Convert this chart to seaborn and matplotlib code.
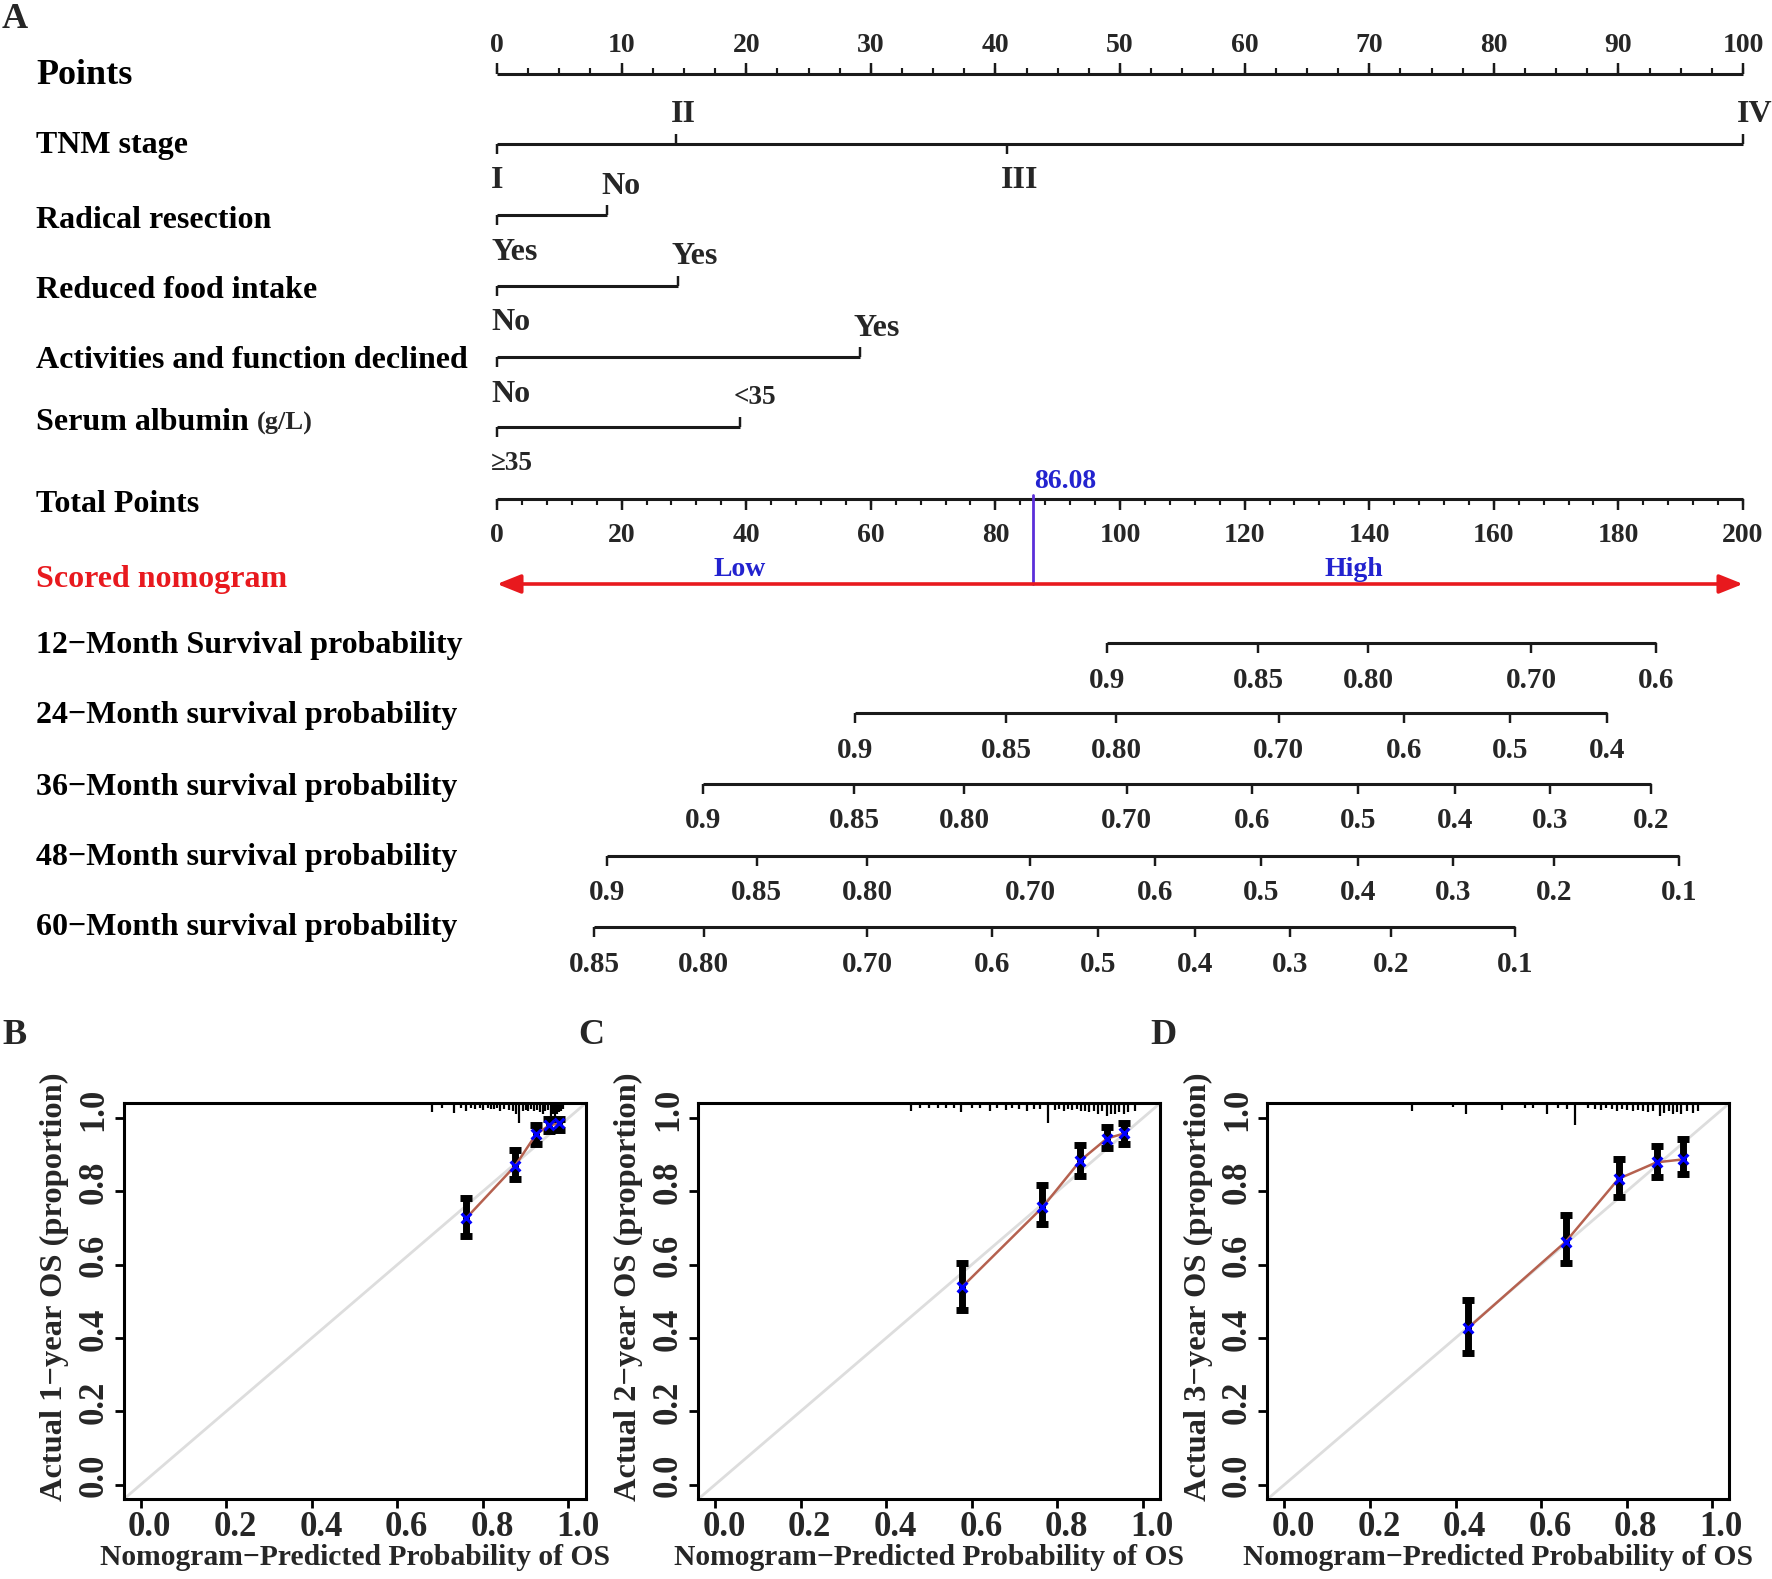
import numpy as np
import pandas as pd
import matplotlib
matplotlib.use("Agg")
import matplotlib.pyplot as plt
import matplotlib.transforms as mtransforms
import seaborn as sns

# ------------------------------------------------------------------ data
points_ticks = [0, 10, 20, 30, 40, 50, 60, 70, 80, 90, 100]
total_ticks = [0, 20, 40, 60, 80, 100, 120, 140, 160, 180, 200]

tnm_levels = ["I", "II", "III", "IV"]
tnm_points = [0, 14.4, 40.9, 100]
tnm_above = [False, True, False, True]

radical_levels = ["Yes", "No"]
radical_points = [0, 8.85]

food_levels = ["No", "Yes"]
food_points = [0, 14.5]

activity_levels = ["No", "Yes"]
activity_points = [0, 29.1]

albumin_levels = ["\u226535", "<35"]
albumin_points = [0, 19.5]

patient_total = 86.08

surv12_labels = ["0.9", "0.85", "0.80", "0.70", "0.6"]
surv12_total = [97.9, 122.2, 139.8, 166.0, 186.0]
surv24_labels = ["0.9", "0.85", "0.80", "0.70", "0.6", "0.5", "0.4"]
surv24_total = [57.5, 81.7, 99.4, 125.5, 145.6, 162.6, 178.2]
surv36_labels = ["0.9", "0.85", "0.80", "0.70", "0.6", "0.5", "0.4", "0.3", "0.2"]
surv36_total = [33.1, 57.3, 75.0, 101.1, 121.2, 138.2, 153.8, 169.0, 185.2]
surv48_labels = ["0.9", "0.85", "0.80", "0.70", "0.6", "0.5", "0.4", "0.3", "0.2", "0.1"]
surv48_total = [17.7, 41.7, 59.4, 85.6, 105.6, 122.6, 138.2, 153.5, 169.7, 189.7]
surv60_labels = ["0.85", "0.80", "0.70", "0.6", "0.5", "0.4", "0.3", "0.2", "0.1"]
surv60_total = [15.6, 33.2, 59.4, 79.5, 96.5, 112.0, 127.3, 143.5, 163.4]

# calibration (B: 1-year, C: 2-year, D: 3-year)
cal1_pred = [0.761, 0.875, 0.924, 0.955, 0.978]
cal1_obs = [0.727, 0.869, 0.955, 0.980, 0.985]
cal1_lo = [0.677, 0.833, 0.929, 0.965, 0.968]
cal1_hi = [0.783, 0.914, 0.980, 0.998, 0.998]

cal2_pred = [0.578, 0.765, 0.854, 0.916, 0.957]
cal2_obs = [0.540, 0.756, 0.884, 0.944, 0.958]
cal2_lo = [0.475, 0.712, 0.843, 0.919, 0.929]
cal2_hi = [0.604, 0.818, 0.927, 0.975, 0.985]

cal3_pred = [0.430, 0.658, 0.781, 0.870, 0.932]
cal3_obs = [0.428, 0.663, 0.834, 0.879, 0.887]
cal3_lo = [0.359, 0.605, 0.785, 0.839, 0.846]
cal3_hi = [0.503, 0.736, 0.889, 0.924, 0.942]

# rug of predicted probabilities along the top (position, spike length)
rug1_x = [0.680, 0.705, 0.733, 0.748, 0.761, 0.772, 0.782, 0.792, 0.800, 0.812, 0.820,
          0.826, 0.833, 0.840, 0.850, 0.860, 0.870, 0.877, 0.885, 0.893, 0.900, 0.906,
          0.913, 0.920, 0.927, 0.933, 0.940, 0.946, 0.952, 0.958, 0.963, 0.968, 0.973,
          0.978, 0.983, 0.988]
rug1_len = [0.024, 0.014, 0.026, 0.014, 0.022, 0.014, 0.016, 0.014, 0.018, 0.014, 0.016,
            0.016, 0.014, 0.020, 0.015, 0.018, 0.020, 0.030, 0.055, 0.020, 0.018, 0.022,
            0.016, 0.020, 0.018, 0.025, 0.030, 0.022, 0.018, 0.035, 0.028, 0.040, 0.030,
            0.025, 0.020, 0.015]

rug2_x = [0.457, 0.480, 0.500, 0.520, 0.540, 0.558, 0.574, 0.600, 0.620, 0.643, 0.660,
          0.680, 0.695, 0.710, 0.729, 0.745, 0.760, 0.779, 0.795, 0.805, 0.815, 0.825,
          0.835, 0.845, 0.855, 0.865, 0.875, 0.885, 0.895, 0.905, 0.916, 0.925, 0.935,
          0.945, 0.955, 0.965, 0.981]
rug2_len = [0.022, 0.012, 0.014, 0.012, 0.014, 0.012, 0.024, 0.014, 0.014, 0.020, 0.014,
            0.018, 0.014, 0.016, 0.022, 0.016, 0.016, 0.055, 0.018, 0.016, 0.020, 0.016,
            0.018, 0.016, 0.020, 0.022, 0.025, 0.020, 0.028, 0.022, 0.035, 0.028, 0.030,
            0.024, 0.030, 0.025, 0.020]

rug3_x = [0.298, 0.394, 0.424, 0.508, 0.562, 0.582, 0.613, 0.640, 0.660, 0.679, 0.710,
          0.725, 0.740, 0.752, 0.765, 0.778, 0.790, 0.802, 0.814, 0.826, 0.838, 0.850,
          0.862, 0.877, 0.888, 0.898, 0.908, 0.918, 0.928, 0.940, 0.955, 0.968]
rug3_len = [0.020, 0.010, 0.030, 0.018, 0.014, 0.014, 0.028, 0.014, 0.016, 0.058, 0.014,
            0.016, 0.018, 0.014, 0.016, 0.020, 0.016, 0.018, 0.022, 0.018, 0.020, 0.024,
            0.020, 0.035, 0.026, 0.022, 0.028, 0.024, 0.030, 0.022, 0.026, 0.020]

# ------------------------------------------------------------------ style
sns.set_theme(style="white")
plt.rcParams["font.family"] = ["Liberation Serif", "DejaVu Serif"]
plt.rcParams["font.weight"] = "bold"
plt.rcParams["axes.labelweight"] = "bold"

RED = "#E8191E"
BLUE = "#2323CF"
PURPLE = "#5B2FD9"
BROWN = "#B5614F"

W, H = 1772, 1579
fig = plt.figure(figsize=(W / 100, H / 100), dpi=100)
fig.patch.set_facecolor("white")

# ------------------------------------------------------------------ nomogram
TOP_H = 1000
ax = fig.add_axes([0, 1 - TOP_H / H, 1, TOP_H / H])
PX = 12.46  # pixels per point
X0 = 497
ax.set_xlim(-X0 / PX, (W - X0) / PX)
ax.set_ylim(TOP_H, 0)
ax.axis("off")

LW = 2.2
LABEL_X = (36 - X0) / PX
FS_ROW = 23
FS_TICK = 20
FS_SURV = 21
DY = 3  # vertical text offset (pixels)


def row_label(y, text, color="black", size=FS_ROW):
    return ax.text(LABEL_X, y + DY + 1, text, ha="left", va="center", fontsize=size,
                   color=color, fontweight="bold")


# Points axis
yP = 74
ax.plot([0, 100], [yP, yP], color="k", lw=LW, solid_capstyle="butt")
ax.vlines(points_ticks, yP, yP - 11, color="k", lw=LW * 0.8)
ax.vlines(np.arange(0, 100.01, 2.5), yP, yP - 6, color="k", lw=LW * 0.7)
for t in points_ticks:
    ax.text(t, 43 + DY, str(t), ha="center", va="center", fontsize=FS_TICK)
row_label(72, "Points", size=26)


def draw_var(y, levels, pts, above, fs=FS_ROW):
    ax.plot([min(pts), max(pts)], [y, y], color="k", lw=LW, solid_capstyle="butt")
    for lev, p, a in zip(levels, pts, above):
        ax.vlines(p, y, y - 10 if a else y + 10, color="k", lw=LW * 0.8)
        ax.text(p - 6 / PX, (y - 32 if a else y + 34) + DY, lev, ha="left",
                va="center", fontsize=fs)


draw_var(144, tnm_levels, tnm_points, tnm_above)
row_label(142, "TNM stage")
draw_var(215, radical_levels, radical_points, [False, True])
row_label(216, "Radical resection")
draw_var(286, food_levels, food_points, [False, True])
row_label(286, "Reduced food intake")
draw_var(357, activity_levels, activity_points, [False, True])
row_label(356, "Activities and function declined")
draw_var(427, albumin_levels, albumin_points, [False, True], fs=19.5)
t_alb = row_label(419, "Serum albumin ")
ax.annotate("(g/L)", xy=(1, 0.5), xycoords=t_alb, ha="left", va="center",
            fontsize=19, fontweight="bold")

# Total points axis
yT = 499
tp = np.array(total_ticks) / 2.0
ax.plot([0, 100], [yT, yT], color="k", lw=LW, solid_capstyle="butt")
ax.vlines(tp, yT, yT + 11, color="k", lw=LW * 0.8)
ax.vlines(np.arange(0, 200.01, 4) / 2.0, yT, yT + 6, color="k", lw=LW * 0.7)
for t in total_ticks:
    ax.text(t / 2.0, 533 + DY, str(t), ha="center", va="center", fontsize=FS_TICK)
row_label(500, "Total Points")

# patient marker & scored nomogram arrow
yA = 584
ax.plot([patient_total / 2] * 2, [yT - 4, yA], color=PURPLE, lw=2)
ax.text(patient_total / 2 + 1 / PX, 478 + DY, f"{patient_total:.2f}", ha="left",
        va="center", fontsize=20, color=BLUE)
ax.annotate("", xy=(100, yA), xytext=(0, yA),
            arrowprops=dict(arrowstyle="<|-|>,head_length=0.65,head_width=0.26",
                            color=RED, lw=2.6, mutation_scale=22,
                            shrinkA=0, shrinkB=0))
ax.text(19.5, 567 + DY, "Low", ha="center", va="center", fontsize=20, color=BLUE)
ax.text(68.8, 567 + DY, "High", ha="center", va="center", fontsize=20, color=BLUE)
row_label(575, "Scored nomogram", color=RED)


def draw_surv(y, labels, totals):
    x = np.array(totals) / 2.0
    ax.plot([x.min(), x.max()], [y, y], color="k", lw=LW, solid_capstyle="butt")
    ax.vlines(x, y, y + 10, color="k", lw=LW * 0.8)
    for lab, xi in zip(labels, x):
        ax.text(xi, y + 34 + DY, lab, ha="center", va="center", fontsize=FS_SURV)


draw_surv(643, surv12_labels, surv12_total)
row_label(641, "12\u2212Month Survival probability")
draw_surv(713, surv24_labels, surv24_total)
row_label(712, "24\u2212Month survival probability")
draw_surv(784, surv36_labels, surv36_total)
row_label(783, "36\u2212Month survival probability")
draw_surv(856, surv48_labels, surv48_total)
row_label(854, "48\u2212Month survival probability")
draw_surv(927, surv60_labels, surv60_total)
row_label(924, "60\u2212Month survival probability")

fig.text(2 / W, 1 - 19 / H, "A", ha="left", va="center", fontsize=26,
         fontweight="bold")

# ------------------------------------------------------------------ calibration plots
panels = [
    ("B", 123.6, 1, cal1_pred, cal1_obs, cal1_lo, cal1_hi, rug1_x, rug1_len, 2),
    ("C", 698.0, 2, cal2_pred, cal2_obs, cal2_lo, cal2_hi, rug2_x, rug2_len, 578),
    ("D", 1267.3, 3, cal3_pred, cal3_obs, cal3_lo, cal3_hi, rug3_x, rug3_len, 1150),
]
AX_W, AX_H, AX_BOTTOM = 462, 396, 1499.3
shift_x = mtransforms.ScaledTranslation(9 / 100, 0, fig.dpi_scale_trans)
shift_y = mtransforms.ScaledTranslation(0, 9 / 100, fig.dpi_scale_trans)
for letter, left, yr, pred, obs, lo, hi, rx, rl, lx in panels:
    cax = fig.add_axes([left / W, 1 - AX_BOTTOM / H, AX_W / W, AX_H / H])
    cax.set_xlim(-0.04, 1.04)
    cax.set_ylim(-0.04, 1.04)
    cax.plot([-0.04, 1.04], [-0.04, 1.04], color="#DDDDDD", lw=2, zorder=1)
    df = pd.DataFrame({"pred": pred, "obs": obs, "lo": lo, "hi": hi})
    cax.errorbar(df["pred"], df["obs"],
                 yerr=[df["obs"] - df["lo"], df["hi"] - df["obs"]],
                 fmt="none", ecolor="black", elinewidth=5, capsize=4.5,
                 capthick=5, zorder=2)
    sns.lineplot(data=df, x="pred", y="obs", color=BROWN, lw=1.8, sort=False,
                 estimator=None, ax=cax, zorder=3)
    sns.scatterplot(data=df, x="pred", y="obs", marker="x", color="blue", s=50,
                    linewidth=2.2, ax=cax, zorder=4)
    rx = np.array(rx)
    rl = np.array(rl)
    cax.vlines(rx, 1.04 - rl, 1.04, color="black", lw=1.6, zorder=2)
    cax.set_xlabel("")
    cax.set_ylabel("")
    ticks = [0.0, 0.2, 0.4, 0.6, 0.8, 1.0]
    cax.set_xticks(ticks)
    cax.set_xticklabels([f"{t:.1f}" for t in ticks], fontsize=25, fontweight="bold")
    cax.set_yticks(ticks)
    cax.set_yticklabels([f"{t:.1f}" for t in ticks], fontsize=25, fontweight="bold",
                        rotation=90, va="center")
    cax.tick_params(axis="both", direction="out", length=6.5, width=2, color="black",
                    bottom=True, left=True)
    cax.tick_params(axis="x", pad=2)
    cax.tick_params(axis="y", pad=3)
    for lab in cax.get_xticklabels():
        lab.set_transform(lab.get_transform() + shift_x)
    for lab in cax.get_yticklabels():
        lab.set_transform(lab.get_transform() + shift_y)
    for s in cax.spines.values():
        s.set_color("black")
        s.set_linewidth(2.2)
    cax.text(0.5, -0.148, "Nomogram\u2212Predicted Probability of OS",
             transform=cax.transAxes, ha="center", va="center", fontsize=21.3,
             fontweight="bold")
    cax.text(-0.150, 0.536, f"Actual {yr}\u2212year OS (proportion)",
             transform=cax.transAxes, ha="center", va="center", rotation=90,
             fontsize=23.4, fontweight="bold")
    fig.text(lx / W, 1 - 1036 / H, letter, ha="left", va="center", fontsize=26,
             fontweight="bold")

fig.savefig("out.png", dpi=100, facecolor="white")
